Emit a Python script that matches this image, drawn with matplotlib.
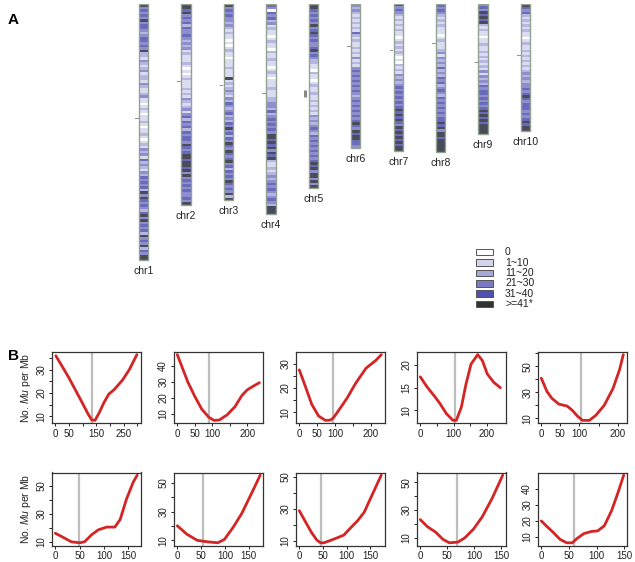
import matplotlib
matplotlib.use("Agg")
import matplotlib.pyplot as plt
from matplotlib.ticker import FixedLocator, FixedFormatter

plt.rcParams['font.family'] = ['Liberation Sans', 'DejaVu Sans']
plt.rcParams['mathtext.fontset'] = 'custom'
plt.rcParams['mathtext.it'] = 'Liberation Sans:italic'
plt.rcParams['mathtext.rm'] = 'Liberation Sans'

# ---------------- data ----------------
chrom_names = ["chr1", "chr2", "chr3", "chr4", "chr5", "chr6", "chr7", "chr8", "chr9", "chr10"]
chrom_len = [301, 236, 231, 247, 216, 169, 173, 174, 153, 149]          # Mb
centromere = [134, 91, 95, 105, 105, 49, 54, 46, 68, 60]                 # Mb

# Mu density class per equal bin along each chromosome (0..5)
band_chr1 = ("53434353443234434352" "21321231221321123" "11012101121011210121"
             "3231423213243" "4342535434324535343425343524355")
band_chr2 = "5545" "3434243343" "2323" "121112101012111" "2121321231" "3424342434" "4354345" "5455453" "53434343" "3435"
band_chr3 = "534343" "3232" "1211010121101" "1121115" "1212321" "3243234232" "4353424354" "3543453424" "3435434352" "5"
band_chr4 = "4304" "342312" "1101211021" "1211012101" "1121112" "2332423" "4343435" "5454535" "4521" "121232" "3434323" "43255" "5"
band_chr5 = "5543" "4343534543" "4334534" "3221" "1021101211" "2112121213" "2323432434" "3434343" "4545355" "353" "5"
band_chr6 = "3232" "1212121" "4212112" "1213121" "3434343" "4343234" "3434343" "4543" "54554" "4" "3"
band_chr7 = "5343" "2121212" "1101212" "1210102" "1213" "2323434" "3434345" "4545435" "4545454" "55"
band_chr8 = "4343" "2121211" "1012111" "2313232" "4232434" "2343243" "4343434" "4545355" "45555" "5"
band_chr9 = "3435" "4545" "2121101" "1211212" "1212131" "3232434" "4343434" "5454545" "55" "5"
band_chr10 = "5434" "2121212" "1101211" "2121212" "1232323" "3434543" "4443434" "5455"
bands = [band_chr1, band_chr2, band_chr3, band_chr4, band_chr5,
         band_chr6, band_chr7, band_chr8, band_chr9, band_chr10]

legend_labels = ["0", "1~10", "11~20", "21~30", "31~40", ">=41*"]

# Panel B: No. Mu per Mb along each chromosome (Mb)
curve_x = [
    [2, 25, 50, 75, 100, 120, 133, 145, 160, 178, 195, 215, 245, 270, 298],
    [0, 15, 30, 50, 70, 90, 105, 120, 143, 165, 185, 200, 215, 235],
    [0, 17, 35, 54, 73, 87, 96, 115, 134, 158, 187, 215, 230],
    [0, 20, 44, 59, 78, 98, 108, 123, 137, 152, 172, 186, 201, 220, 240],
    [0, 15, 28, 46, 68, 81, 95, 108, 126, 143, 165, 188, 205, 215],
    [0, 16, 33, 50, 60, 74, 88, 105, 122, 133, 146, 160, 168],
    [0, 20, 42, 63, 85, 99, 117, 135, 156, 174],
    [0, 12, 26, 37, 45, 52, 66, 80, 94, 109, 123, 137, 155, 173],
    [0, 13, 29, 42, 54, 70, 83, 99, 115, 134, 153],
    [0, 9, 22, 34, 46, 56, 65, 77, 90, 102, 114, 127, 139, 149],
]
curve_y = [
    [36, 31.5, 26.5, 21, 15.5, 11, 8.5, 8.3, 11.5, 16, 19.5, 21.5, 25.5, 30, 36.5],
    [47, 38.5, 30, 21, 13, 8, 6, 6.2, 9.5, 14.5, 21.5, 25, 27, 29.5],
    [27.5, 20.7, 13.3, 8.5, 6.7, 6.8, 7.8, 11.8, 15.9, 22, 28.2, 31.5, 33.8],
    [17.4, 15.2, 13, 11.5, 9.3, 7.8, 7.8, 10.7, 15.8, 20.2, 22.3, 21, 18, 16.2, 15],
    [40.9, 30.5, 25.3, 20.9, 19.4, 16.2, 11.6, 8.4, 8.4, 12.3, 20, 33, 47.3, 59],
    [16.1, 13.2, 10, 9.3, 10, 14.9, 18.5, 20.5, 20.5, 25.9, 40.5, 52.7, 57.5],
    [20.2, 14.3, 10, 9, 8.3, 10.7, 19, 28.6, 42.9, 55.5],
    [28.9, 22.5, 15.2, 10.6, 8.9, 8.9, 10.4, 12, 13.7, 18.4, 22.6, 27.9, 39.5, 51],
    [23, 18, 13.8, 8.8, 6.3, 6.8, 10, 16.3, 25, 38.8, 55],
    [20, 16.9, 12.7, 8.5, 6.4, 6.4, 9.2, 12.1, 13.4, 13.8, 17, 26.3, 37.9, 48.4],
]
xticks = [[0, 50, 100, 150, 200, 250, 300]] + [[0, 50, 100, 150, 200]] * 4 + [[0, 50, 100, 150]] * 5
xticklabels = [["0", "50", "", "150", "", "250", ""],
               ["0", "50", "100", "", "200"],
               ["0", "50", "100", "", "200"],
               ["0", "", "100", "", "200"],
               ["0", "50", "100", "", "200"]] + [["0", "50", "100", "150"]] * 5
yticks = [[10, 15, 20, 25, 30, 35], [10, 20, 30, 40], [10, 15, 20, 25, 30], [10, 15, 20],
          [10, 20, 30, 40, 50, 60], [10, 20, 30, 40, 50], [10, 20, 30, 40, 50],
          [10, 20, 30, 40, 50], [10, 20, 30, 40, 50], [10, 20, 30, 40]]
yticklabels = [["10", "", "20", "", "30", ""], ["10", "20", "30", "40"], ["10", "", "20", "", "30"],
               ["10", "15", "20"], ["10", "", "30", "", "50", ""], ["10", "", "30", "", "50"],
               ["10", "", "30", "", "50"], ["10", "", "30", "", "50"], ["10", "", "30", "", "50"],
               ["10", "20", "30", "40"]]

# ---------------- style ----------------
class_colors = ["#ffffff", "#dcdcf0", "#b6b6e0", "#8e8ecf", "#6a6abd", "#4a4a58"]
legend_colors = ["#ffffff", "#d4d4ec", "#a8a8d8", "#7a7ac4", "#5050b0", "#333333"]
W, H = 635, 562
fig = plt.figure(figsize=(W / 100, H / 100), dpi=100)

def px_axes(left, top, width, height):
    return fig.add_axes([left / W, 1 - (top + height) / H, width / W, height / H])

# ---------------- panel A ----------------
spacing = 42.45
mb_px = 0.85
axA = px_axes(143.5 - spacing, 4, 11 * spacing, 350 * mb_px)
axA.set_xlim(0, 11)
axA.set_ylim(350, 0)
axA.axis("off")
cw = 0.22
for i, (name, L, cen, b) in enumerate(zip(chrom_names, chrom_len, centromere, bands)):
    xpos = i + 1
    n = len(b)
    step = L / n
    starts = [k * step for k in range(n)]
    cols = [class_colors[int(c)] for c in b]
    axA.bar([xpos] * n, [step] * n, bottom=starts, width=cw, color=cols,
            linewidth=0, align="center")
    axA.bar(xpos, L, bottom=0, width=cw, fill=False, edgecolor="#93a393", linewidth=1.0)
    axA.text(xpos, L + 7, name, ha="center", va="top", fontsize=7.5, color="#222222")
    if i == 4:
        axA.plot([xpos - cw / 2 - 0.08] * 2, [cen - 4, cen + 4], color="#888888", lw=2.2,
                 solid_capstyle="butt")
    else:
        axA.plot([xpos - cw / 2 - 0.09, xpos - cw / 2 - 0.03], [cen, cen], color="#999999", lw=0.8)

fig.text(8 / W, 1 - 20 / H, "A", fontsize=11, fontweight="bold", va="center", ha="left")

# legend
axL = px_axes(476, 247, 124, 62.1)
axL.set_xlim(0, 124)
axL.set_ylim(6, 0)
axL.axis("off")
for k, (lab, col) in enumerate(zip(legend_labels, legend_colors)):
    axL.add_patch(plt.Rectangle((0, k + 0.18), 17, 0.64, facecolor=col, edgecolor="#555555", lw=0.7))
    axL.text(29, k + 0.5, lab, fontsize=7.5, va="center", ha="left", color="#222222")

# ---------------- panel B ----------------
lefts = [52, 174, 296, 417, 538]
tops = [352, 472.5]
heights = [71, 73]
for i in range(10):
    r, c = divmod(i, 5)
    ax = px_axes(lefts[c], tops[r], 89, heights[r])
    ax.axvline(centromere[i], color="#bdbdbd", lw=1.6, zorder=1)
    ax.plot(curve_x[i], curve_y[i], color="#d42424", lw=2.0, zorder=2,
            solid_joinstyle="round", solid_capstyle="round")
    L = chrom_len[i]
    ax.set_xlim(-0.04 * L, 1.04 * L)
    ymin, ymax = min(curve_y[i]), max(curve_y[i])
    rng = ymax - ymin
    ax.set_ylim(ymin - 0.04 * rng, ymax + 0.04 * rng)
    ax.xaxis.set_major_locator(FixedLocator(xticks[i]))
    ax.xaxis.set_major_formatter(FixedFormatter(xticklabels[i]))
    ax.yaxis.set_major_locator(FixedLocator(yticks[i]))
    ax.yaxis.set_major_formatter(FixedFormatter(yticklabels[i]))
    ax.tick_params(axis="both", direction="out", length=2.5, width=0.7, labelsize=7,
                   colors="#222222")
    ax.tick_params(axis="x", pad=1.8)
    ax.tick_params(axis="y", pad=1.6)
    for lab in ax.get_yticklabels():
        lab.set_rotation(90)
        lab.set_va("center")
    for s in ax.spines.values():
        s.set_linewidth(0.9)
        s.set_color("#333333")
    if c == 0:
        ax.set_ylabel("No. $\\it{Mu}$ per Mb", fontsize=7.5, color="#222222")
        ax.yaxis.set_label_coords(-0.215, 0.5)

fig.text(8 / W, 1 - 356 / H, "B", fontsize=11, fontweight="bold", va="center", ha="left")

fig.savefig("out.png", dpi=100)
